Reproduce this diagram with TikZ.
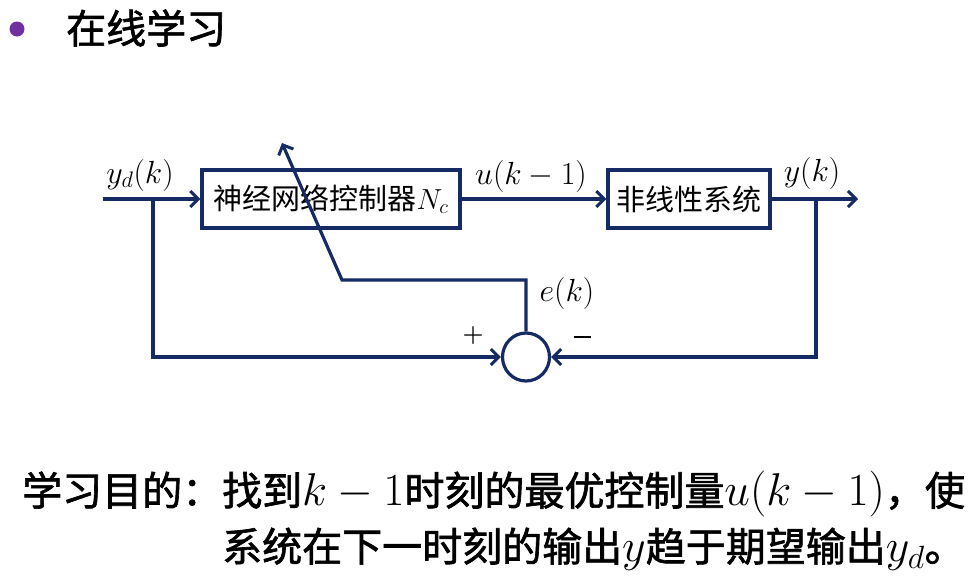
\RequirePackage{fix-cm}
\documentclass[tikz,border=0pt]{standalone}
\usepackage{fontspec}
\newfontfamily\cjk{Noto Sans CJK SC}
\newfontfamily\cjkb[FakeBold=1.6]{Noto Sans CJK SC}
\usetikzlibrary{arrows.meta,shapes.geometric}
\definecolor{navy}{RGB}{22,42,100}
\definecolor{bulletpurple}{RGB}{112,48,160}
\newcommand{\txtmath}[1]{{\fontsize{46}{48}\selectfont$#1$}}
\tikzset{
  wire/.style={draw=navy,line width=3.2pt},
  arr/.style={wire,-{Straight Barb[length=8pt,width=16pt,line width=3pt]}},
  blockbox/.style={draw=navy,line width=3.2pt,inner sep=0pt,font=\fontsize{29}{32}\selectfont\cjk},
  lbl/.style={inner sep=0pt,font=\fontsize{32}{36}\selectfont},
  sgn/.style={inner sep=0pt,font=\fontsize{24}{26}\selectfont\bfseries},
  bigtext/.style={inner sep=0pt,anchor=west,font=\fontsize{40}{44}\selectfont\cjkb}
}
\begin{document}
\begin{tikzpicture}[x=1pt,y=-1pt]
\useasboundingbox (0,0) rectangle (972,576);
% title
\fill[bulletpurple] (17,29) circle (7.5);
\node[inner sep=0pt,anchor=west,font=\fontsize{40}{44}\selectfont\cjkb] (title) at (66,28) {在线学习};
% blocks
\node[blockbox,minimum width=258pt,minimum height=58pt] (nc) at (331,199) {神经网络控制器$N_c$};
\node[blockbox,minimum width=162pt,minimum height=58pt] (plant) at (689,199) {非线性系统};
\node[draw=navy,line width=3.2pt,ellipse,minimum width=47pt,minimum height=48pt,inner sep=0pt] (sum) at (526,357) {};
% coordinates
\coordinate (in) at (103,199);
\coordinate (out) at (858,199);
\coordinate (sp1) at (153,199);
\coordinate (sp2) at (816,199);
\coordinate (bend) at (342,280);
\coordinate (tip) at (282,143);
% connectors
\draw[arr] (in) -- (nc.west);
\draw[arr] (nc.east) -- (plant.west);
\draw[arr] (plant.east) -- (out);
\draw[arr] (sp1) |- (sum.west);
\draw[arr] (sp2) |- (sum.east);
\draw[arr] (sum.north) |- (bend) -- (tip);
% labels
\node[lbl] (lyd) at (140,175) {$y_d(k)$};
\node[lbl] (lu) at (531,176) {$u(k-1)$};
\node[lbl] (ly) at (812,173) {$y(k)$};
\node[lbl] (le) at (567,293) {$e(k)$};
\node[sgn] (plus) at (473,336) {+};
\node[inner sep=0pt] (minus) at (582,337) {\rule{17pt}{2.6pt}};
% bottom text
\node[bigtext] (t1) at (22,494) {学习目的：找到\txtmath{k-1}时刻的最优控制量\txtmath{u(k-1)}，使};
\node[bigtext] (t2) at (222,549) {系统在下一时刻的输出\txtmath{y}趋于期望输出\txtmath{y_d}。};
\end{tikzpicture}
\end{document}
